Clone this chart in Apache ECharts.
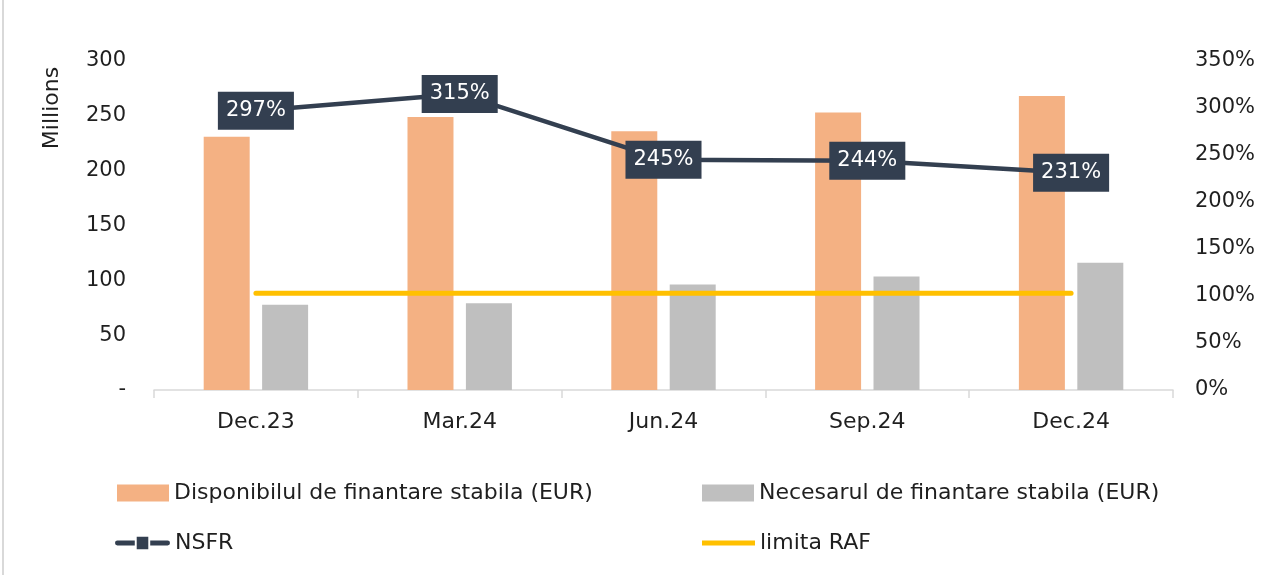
<!DOCTYPE html>
<html>
<head>
<meta charset="utf-8">
<title>NSFR</title>
<script src="https://cdn.jsdelivr.net/npm/echarts@6/dist/echarts.min.js"></script>
<style>
  html, body { margin: 0; padding: 0; background: #ffffff; }
  #chart { width: 1267px; height: 575px; }
</style>
</head>
<body>
<div id="chart"></div>
<script>
// Quarter-end reporting dates
const categories = ['Dec.23', 'Mar.24', 'Jun.24', 'Sep.24', 'Dec.24'];
// Available stable funding, EUR millions
const availableFunding = [231, 249, 236, 253, 268];
// Required stable funding, EUR millions
const requiredFunding = [77.8, 79, 96.3, 103.5, 116];
// Net stable funding ratio, %
const nsfr = [297, 315, 245, 244, 231];
// Risk appetite limit, %
const rafLimit = [103, 103, 103, 103, 103];

const FONT = 'DejaVu Sans';
const TEXT = '#1f1f1f';
const NAVY = '#333F50';
const NAMES = {
  avail: 'Disponibilul de finantare stabila (EUR)',
  req: 'Necesarul de finantare stabila (EUR)',
  nsfr: 'NSFR',
  raf: 'limita RAF'
};

// Line-with-square legend marker
const NSFR_ICON = 'path://M2 5 H20 V10 H2 A2.5 2.5 0 0 1 2 5 Z M22 1 H34 V14 H22 Z M36 5 H54 A2.5 2.5 0 0 1 54 10 H36 Z';

const chart = echarts.init(document.getElementById('chart'), null, { renderer: 'canvas' });

const legendBase = {
  orient: 'horizontal',
  itemGap: 6,
  selectedMode: false,
  textStyle: { fontFamily: FONT, fontSize: 22, color: TEXT }
};

chart.setOption({
  animation: false,
  textStyle: { fontFamily: FONT },
  grid: { left: 154, right: 94, top: 61, bottom: 185 },
  legend: [
    Object.assign({}, legendBase, {
      data: [{ name: NAMES.avail, icon: 'rect' }],
      left: 112, top: 477, itemWidth: 52, itemHeight: 17
    }),
    Object.assign({}, legendBase, {
      data: [{ name: NAMES.req, icon: 'rect' }],
      left: 697, top: 477, itemWidth: 52, itemHeight: 17
    }),
    Object.assign({}, legendBase, {
      data: [{ name: NAMES.nsfr, icon: NSFR_ICON }],
      left: 110, top: 527, itemWidth: 55, itemHeight: 14, itemGap: 5
    }),
    Object.assign({}, legendBase, {
      data: [{ name: NAMES.raf, icon: 'rect' }],
      left: 697, top: 527, itemWidth: 53, itemHeight: 5
    })
  ],
  graphic: [
    {
      type: 'text',
      x: 52, y: 108,
      rotation: Math.PI / 2,
      style: {
        text: 'Millions',
        fontFamily: FONT, fontSize: 22, fill: TEXT,
        align: 'center', verticalAlign: 'middle'
      }
    },
    {
      type: 'line',
      shape: { x1: 3, y1: 0, x2: 3, y2: 575 },
      style: { stroke: '#d9d9d9', lineWidth: 2 }
    }
  ],
  xAxis: {
    type: 'category',
    data: categories,
    axisLine: { show: true, lineStyle: { color: '#d9d9d9', width: 1.5 } },
    axisTick: { show: true, length: 8, lineStyle: { color: '#d9d9d9', width: 1.5 } },
    axisLabel: { fontFamily: FONT, fontSize: 22, color: TEXT, margin: 21 }
  },
  yAxis: [
    {
      type: 'value',
      min: 0, max: 300, interval: 50,
      axisLine: { show: false },
      axisTick: { show: false },
      splitLine: { show: false },
      axisLabel: {
        fontFamily: FONT, fontSize: 21, color: TEXT, margin: 28,
        formatter: v => (v === 0 ? '-' : String(v))
      }
    },
    {
      type: 'value',
      min: 0, max: 350, interval: 50,
      position: 'right',
      axisLine: { show: false },
      axisTick: { show: false },
      splitLine: { show: false },
      axisLabel: {
        fontFamily: FONT, fontSize: 21, color: TEXT, margin: 22,
        formatter: '{value}%'
      }
    }
  ],
  series: [
    {
      name: NAMES.avail,
      type: 'bar',
      data: availableFunding,
      barWidth: 46,
      barGap: '27%',
      itemStyle: { color: '#F4B183' }
    },
    {
      name: NAMES.req,
      type: 'bar',
      data: requiredFunding,
      barWidth: 46,
      itemStyle: { color: '#BFBFBF' }
    },
    {
      name: NAMES.raf,
      type: 'line',
      yAxisIndex: 1,
      data: rafLimit,
      symbol: 'none',
      lineStyle: { color: '#FFC000', width: 5, cap: 'round' },
      itemStyle: { color: '#FFC000' },
      z: 3
    },
    {
      name: NAMES.nsfr,
      type: 'line',
      yAxisIndex: 1,
      data: nsfr,
      symbol: 'rect',
      symbolSize: 10,
      lineStyle: { color: NAVY, width: 4.5 },
      itemStyle: { color: NAVY },
      z: 5,
      label: {
        show: true,
        position: 'inside',
        formatter: '{c}%',
        fontFamily: FONT,
        fontSize: 21,
        color: '#ffffff',
        backgroundColor: NAVY,
        padding: [9, 8, 8, 8]
      }
    }
  ]
});
</script>
</body>
</html>
